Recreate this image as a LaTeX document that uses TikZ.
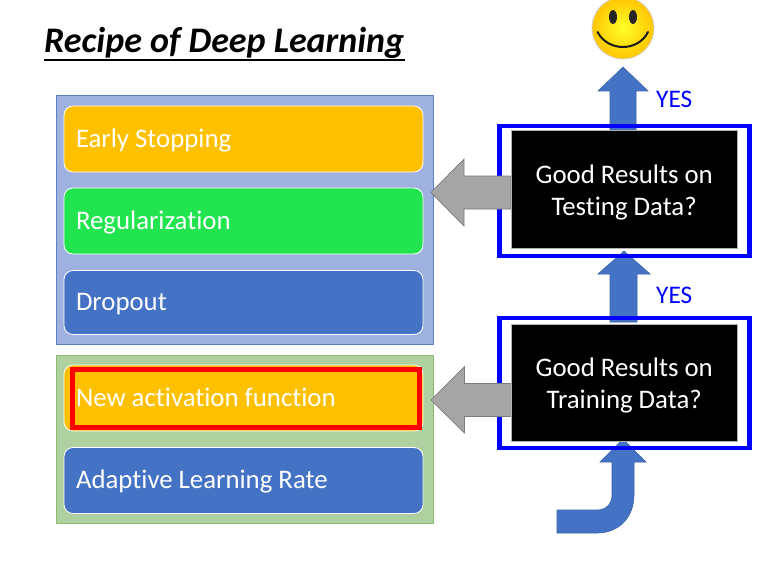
\documentclass[tikz,border=0pt]{standalone}
\usepackage{fontspec}
\setmainfont{Carlito}[Ligatures=NoCommon]
\begin{document}
\begin{tikzpicture}[x=1pt,y=-1pt,
  panel/.style={draw=#1,line width=0.9pt},
  item/.style={draw=white,line width=0.8pt,rounded corners=9pt,fill=#1,minimum width=359pt,anchor=west,text=white,font=\fontsize{26.8}{30}\selectfont,align=flush left,text width=335pt,inner sep=0pt,outer sep=0pt,text height=20pt,text depth=4pt},
  bluebox/.style={draw=blue,line width=4.7pt,minimum width=250pt,anchor=center},
  blackbox/.style={fill=black,draw=gray!60,line width=0.4pt,text=white,align=center,font=\fontsize{26.8}{32}\selectfont,minimum width=226pt,anchor=center,inner sep=0pt},
  blockblue/.style={fill=arrowblue,draw=arrowblue!85!black,line width=0.6pt},
  blockgray/.style={fill=arrowgray,draw=arrowgray!75!black,line width=0.7pt},
  yes/.style={text=blue,font=\fontsize{25.3}{30}\selectfont,inner sep=0pt}]
\definecolor{panelblue}{HTML}{9FB1DE}
\definecolor{panelblueline}{HTML}{5A83C8}
\definecolor{panelgreen}{HTML}{AFD09F}
\definecolor{panelgreenline}{HTML}{8DBB70}
\definecolor{itemorange}{HTML}{FFC000}
\definecolor{itemgreen}{HTML}{22E44F}
\definecolor{itemblue}{HTML}{4472C4}
\definecolor{arrowblue}{HTML}{4472C4}
\definecolor{arrowgray}{HTML}{A5A5A5}
\useasboundingbox (0,0) rectangle (767,575);
\fill[white] (0,0) rectangle (767,575);
% title
\node[anchor=base west,inner sep=0pt,font=\fontsize{36}{40}\selectfont\bfseries\itshape] (title) at (44,52.5) {Recipe of Deep Learning};
\draw[line width=2pt] (44,60) -- (405,60);
% panels
\draw[panel=panelblueline,fill=panelblue] (56,95.5) rectangle (433,344.5);
\draw[panel=panelgreenline,fill=panelgreen] (56,355.5) rectangle (433,523.5);
% items
\node[item=itemorange,minimum height=66pt] (es) at (64,139) {Early Stopping};
\node[item=itemgreen,minimum height=66pt] (reg) at (64,221) {Regularization};
\node[item=itemblue,minimum height=64pt] (drop) at (64,302.5) {Dropout};
\node[item=itemorange,minimum height=66pt] (act) at (64,398) {New activation function};
\node[item=itemblue,minimum height=66pt] (ada) at (64,480.5) {Adaptive Learning Rate};
\draw[red,line width=5pt] (72,369.5) rectangle (419,427.5);
% blue arrows under the frames
\draw[blockblue] (610,130) -- (610,91) -- (598,91) -- (623,67) -- (648,91) -- (636,91) -- (636,130) -- cycle;
\draw[blockblue] (610,322) -- (610,274) -- (598,274) -- (624,251) -- (650,274) -- (637,274) -- (637,322) -- cycle;
\draw[blockblue] (557,510) -- (597,510) .. controls (606,510) and (612,504) .. (612,495) -- (612,462) -- (600,462) -- (623,439) -- (646,462) -- (634,462) -- (634,495) .. controls (634,517) and (619,533) .. (597,533) -- (557,533) -- cycle;
% frames
\node[bluebox,minimum height=130pt] (testouter) at (624.5,191) {};
\node[bluebox,minimum height=130pt] (trainouter) at (624.5,383) {};
% gray arrows
\draw[blockgray] (511,176) -- (464,176) -- (464,159) -- (431,192.5) -- (464,226) -- (464,209) -- (511,209) -- cycle;
\draw[blockgray] (512,383.5) -- (464.5,383.5) -- (464.5,366.5) -- (431,400) -- (464.5,433) -- (464.5,416.5) -- (512,416.5) -- cycle;
% black boxes
\node[blackbox,minimum height=118pt,anchor=north west] (test) at (511,130) {\parbox{226pt}{\vspace*{6pt}\centering Good Results on\\Testing Data?}};
\node[blackbox,minimum height=117pt,anchor=north west] (train) at (511,324) {\parbox{226pt}{\vspace*{6pt}\centering Good Results on\\Training Data?}};
% labels
\node[yes,anchor=west] (yes1) at (656,99) {YES};
\node[yes,anchor=west] (yes2) at (656,295) {YES};
% smiley
\shade[inner color=yellow!85!white,outer color=orange!45!yellow,draw=gray!35,line width=0.8pt] (623,28) circle (31pt);
\node[inner sep=0pt] (smile) at (623,28) {};
\fill[black!85] (613,17) ellipse (4pt and 7pt);
\fill[black!85] (633,17) ellipse (4pt and 7pt);
\draw[black!90,line width=2pt,line cap=round] (597.5,32) .. controls (608,52) and (638,52) .. (648,32);
\end{tikzpicture}
\end{document}
